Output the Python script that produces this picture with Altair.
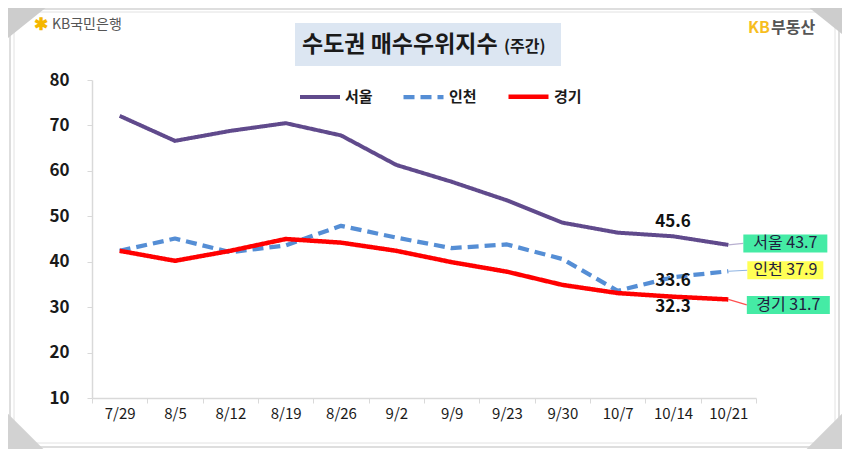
import altair as alt
import pandas as pd

# ---------------- data ----------------
dates = ["7/29", "8/5", "8/12", "8/19", "8/26", "9/2", "9/9", "9/23", "9/30", "10/7", "10/14", "10/21"]
seoul = [72.1, 66.6, 68.8, 70.5, 67.8, 61.3, 57.6, 53.5, 48.6, 46.4, 45.6, 43.7]
incheon = [42.4, 45.1, 42.1, 43.6, 47.9, 45.3, 43.0, 43.8, 40.6, 33.6, 36.6, 37.9]
gyeonggi = [42.4, 40.2, 42.4, 45.0, 44.2, 42.4, 39.9, 37.8, 34.9, 33.1, 32.3, 31.7]
series = ["서울", "인천", "경기"]
colors = ["#604A8C", "#558ED5", "#FF0000"]
dashes = [[1, 0], [11, 6], [1, 0]]
widths = [4, 4.5, 5.5]
y_ticks = [10, 20, 30, 40, 50, 60, 70, 80]

# point annotations (at 10/14)
ann_text = ["45.6", "33.6", "32.3"]
ann_value = [45.6, 33.6, 32.3]
ann_dy = [-14, -10, 10]

# end labels (at 10/21)
end_text = ["서울 43.7", "인천 37.9", "경기 31.7"]
end_value = [43.7, 37.9, 31.7]
end_fill = ["#45EBA5", "#FFFF55", "#45EBA5"]
end_leader = ["#B8B0D0", "#8DB3E2", "#FF5050"]

FONT = "Noto Sans CJK KR"

rows = []
for s, vals in zip(series, [seoul, incheon, gyeonggi]):
    for d, v in zip(dates, vals):
        rows.append({"date": d, "series": s, "value": v})
df = pd.DataFrame(rows)

x_enc = alt.X(
    "date:N",
    sort=dates,
    bandPosition=0.5,
    scale=alt.Scale(type="band", domain=dates, paddingInner=0, paddingOuter=0),
    axis=alt.Axis(
        title=None, labelAngle=0, labelFont=FONT, labelFontSize=15, labelColor="#1A1A1A",
        domainColor="#D9D9D9", domainWidth=1.5, tickColor="#D9D9D9", tickSize=5,
        tickBand="extent", labelPadding=3,
    ),
)
y_enc = alt.Y(
    "value:Q",
    scale=alt.Scale(domain=[10, 80], nice=False, zero=False),
    axis=alt.Axis(
        title=None, values=y_ticks, grid=False, labelFont=FONT, labelFontSize=17,
        labelFontWeight="bold", labelColor="#1A1A1A", labelPadding=18,
        domainColor="#D9D9D9", domainWidth=1.5, tickColor="#D9D9D9", tickSize=5,
    ),
)

lines = alt.Chart(df).mark_line(strokeJoin="round").encode(
    x=x_enc,
    y=y_enc,
    color=alt.Color(
        "series:N",
        scale=alt.Scale(domain=series, range=colors),
        legend=alt.Legend(
            title=None, orient="none", legendX=206, legendY=-6, direction="horizontal",
            symbolType="stroke", symbolSize=1600, symbolStrokeWidth=4.5,
            labelFont=FONT, labelFontSize=15, labelColor="#1A1A1A", labelFontWeight="bold",
            columnPadding=22, labelOffset=3, padding=0,
        ),
    ),
    strokeDash=alt.StrokeDash("series:N", scale=alt.Scale(domain=series, range=dashes),
                              legend=alt.Legend(title=None)),
    strokeWidth=alt.StrokeWidth("series:N", scale=alt.Scale(domain=series, range=widths), legend=None),
    detail="series:N",
)

one = pd.DataFrame({"a": [0]})

def deco_rect(x1, x2, y1, y2, fill=None, stroke=None, sw=1):
    kw = {}
    if fill is not None:
        kw["fill"] = fill
    else:
        kw["filled"] = False
        kw["fillOpacity"] = 0
    if stroke is not None:
        kw["stroke"] = stroke
        kw["strokeWidth"] = sw
    return alt.Chart(one).mark_rect(**kw).encode(
        x=alt.value(x1), x2=alt.value(x2), y=alt.value(y1), y2=alt.value(y2)
    )

def deco_text(txt, x, y, size, color, weight="normal", align="left"):
    return alt.Chart(one).mark_text(
        text=txt, font=FONT, fontSize=size, color=color, fontWeight=weight,
        align=align, baseline="middle",
    ).encode(x=alt.value(x), y=alt.value(y))

def tri(path, x, y, size, color):
    return alt.Chart(one).mark_point(
        shape=path, size=size, filled=True, fill=color, opacity=1, strokeWidth=0
    ).encode(x=alt.value(x), y=alt.value(y))

frame = [
    deco_rect(-82, 747, -71, 367, stroke="#D4D4D4", sw=1.5),
    deco_rect(-78, 743, -68, 363, stroke="#E2E2E2", sw=1),
    tri("M0,0 L1,0 L0,0.8 Z", -84, -72, 5600, "#CDCDCD"),
    tri("M0,0 L-1,0 L0,0.8 Z", 750, -72, 4200, "#CDCDCD"),
    tri("M0,0 L0,-1 L1,0 Z", -84, 369, 5000, "#D2D2D2"),
    tri("M0,0 L0,-1 L-1,0 Z", 750, 369, 5000, "#D2D2D2"),
]

header = [
    deco_rect(203, 469, -57, -14, fill="#DCE6F2"),
    deco_text("수도권 매수우위지수", 210, -35, 23, "#1A1A1A", "bold"),
    deco_text("(주간)", 412, -33, 16, "#1A1A1A", "bold"),
    deco_text("✱", -58, -55, 17, "#F5B700", "bold"),
    deco_text("KB국민은행", -40, -55, 14, "#555555"),
    deco_text("KB", 656, -52, 16, "#F7BE1E", "bold"),
    deco_text("부동산", 679, -52, 16, "#555555", "bold"),
]

ann_df = pd.DataFrame({"date": ["10/14"] * 3, "value": ann_value, "text": ann_text})
ann_layers = []
for i in range(3):
    ann_layers.append(
        alt.Chart(ann_df.iloc[[i]]).mark_text(
            font=FONT, fontSize=17, fontWeight="bold", color="#111111", dy=ann_dy[i]
        ).encode(x=x_enc, y=y_enc, text="text:N")
    )

end_df = pd.DataFrame({"date": ["10/21"] * 3, "value": end_value, "text": end_text})
end_dx = [57, 57, 60]
end_dy = [-1.5, -1, 5.5]
end_w = [84, 76, 83]
end_layers = []
lead_layers = []
for i in range(3):
    row = end_df.iloc[[i]]
    h = 18.0
    half = h / end_w[i]
    path = f"M-1,{-half:.4f} L1,{-half:.4f} L1,{half:.4f} L-1,{half:.4f} Z"
    box_left = 728.3 - 92 + end_dx[i] - end_w[i] / 2
    vy = 318 - (end_value[i] - 10) / 70 * 318 + end_dy[i]
    lead_layers.append(
        alt.Chart(row).mark_rule(color=end_leader[i], strokeWidth=1.2).encode(
            x=x_enc, y=y_enc, x2=alt.value(box_left), y2=alt.value(vy)
        )
    )
    end_layers.append(
        alt.Chart(row).mark_point(
            shape=path, size=end_w[i] ** 2, filled=True, fill=end_fill[i], opacity=1,
            strokeWidth=0, xOffset=end_dx[i], yOffset=end_dy[i],
        ).encode(x=x_enc, y=y_enc)
    )
    end_layers.append(
        alt.Chart(row).mark_text(
            font=FONT, fontSize=16, color="#1F2040", dx=end_dx[i], dy=end_dy[i],
            align="center", baseline="middle",
        ).encode(x=x_enc, y=y_enc, text="text:N")
    )

chart = alt.layer(
    *frame, *header, *lead_layers, lines, *ann_layers, *end_layers
).properties(
    width=664, height=318,
    autosize=alt.AutoSizeParams(type="none"),
    padding={"left": 84, "top": 72, "right": 86, "bottom": 51},
    background="white",
).configure_view(stroke=None)

chart.save("out.html", embed_options={"renderer": "svg", "actions": False})
